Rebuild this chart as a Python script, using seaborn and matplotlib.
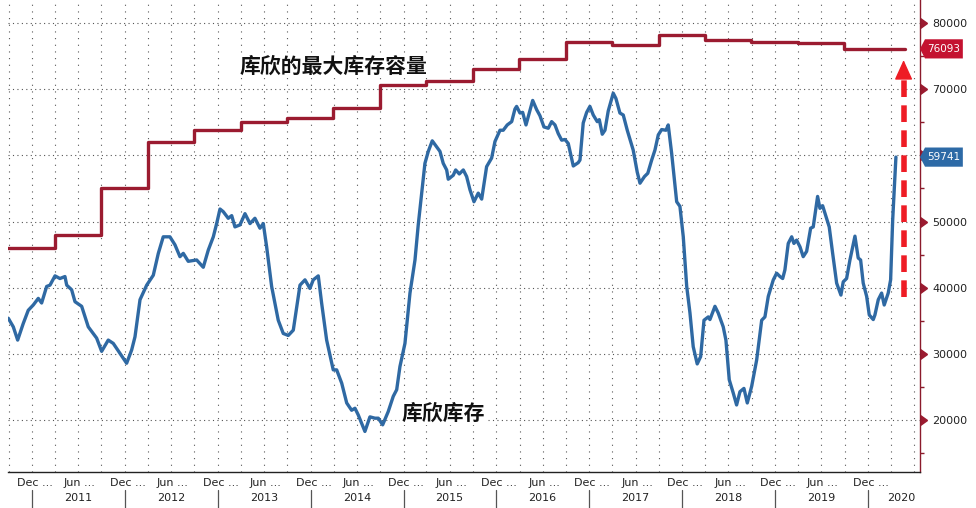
import numpy as np
import pandas as pd
import seaborn as sns
import matplotlib.pyplot as plt
import matplotlib.dates as mdates
import matplotlib.markers as mmarkers
from matplotlib.ticker import MultipleLocator, NullFormatter
from matplotlib.patches import Polygon

# Cushing crude stocks (thousand bbl), weekly, time as decimal year
stock_t = [
    2010.745, 2010.799, 2010.846, 2010.906, 2010.960, 2011.014, 2011.068, 2011.104,
    2011.158, 2011.194, 2011.248, 2011.301, 2011.355, 2011.374, 2011.427, 2011.463,
    2011.535, 2011.606, 2011.696, 2011.750, 2011.821, 2011.875, 2011.947, 2012.019,
    2012.073, 2012.109, 2012.163, 2012.235, 2012.306, 2012.360, 2012.413, 2012.485,
    2012.539, 2012.593, 2012.629, 2012.682, 2012.773, 2012.844, 2012.898, 2012.952,
    2012.988, 2013.024, 2013.059, 2013.113, 2013.150, 2013.185, 2013.239, 2013.293,
    2013.347, 2013.400, 2013.454, 2013.490, 2013.526, 2013.580, 2013.651, 2013.705,
    2013.759, 2013.813, 2013.885, 2013.939, 2013.992, 2014.028, 2014.082, 2014.118,
    2014.172, 2014.243, 2014.280, 2014.334, 2014.388, 2014.441, 2014.477, 2014.512,
    2014.549, 2014.584, 2014.638, 2014.692, 2014.728, 2014.775, 2014.835, 2014.889,
    2014.926, 2014.961, 2015.015, 2015.069, 2015.123, 2015.158, 2015.195, 2015.230,
    2015.266, 2015.309, 2015.356, 2015.392, 2015.427, 2015.464, 2015.481, 2015.535,
    2015.561, 2015.600, 2015.643, 2015.679, 2015.715, 2015.758, 2015.804, 2015.841,
    2015.894, 2015.948, 2015.984, 2016.038, 2016.073, 2016.116, 2016.164, 2016.199,
    2016.217, 2016.253, 2016.282, 2016.318, 2016.353, 2016.390, 2016.433, 2016.468,
    2016.511, 2016.558, 2016.594, 2016.630, 2016.665, 2016.702, 2016.737, 2016.773,
    2016.827, 2016.880, 2016.899, 2016.934, 2016.971, 2017.006, 2017.042, 2017.085,
    2017.107, 2017.139, 2017.168, 2017.203, 2017.257, 2017.286, 2017.329, 2017.365,
    2017.408, 2017.472, 2017.515, 2017.545, 2017.593, 2017.629, 2017.671, 2017.706,
    2017.742, 2017.778, 2017.825, 2017.849, 2017.886, 2017.940, 2017.975, 2018.011,
    2018.048, 2018.083, 2018.118, 2018.161, 2018.198, 2018.234, 2018.280, 2018.298,
    2018.352, 2018.387, 2018.441, 2018.470, 2018.506, 2018.549, 2018.585, 2018.621,
    2018.664, 2018.700, 2018.747, 2018.801, 2018.855, 2018.890, 2018.926, 2018.980,
    2019.016, 2019.052, 2019.081, 2019.105, 2019.141, 2019.178, 2019.202, 2019.231,
    2019.267, 2019.302, 2019.339, 2019.382, 2019.410, 2019.457, 2019.482, 2019.511,
    2019.547, 2019.582, 2019.619, 2019.662, 2019.708, 2019.733, 2019.769, 2019.805,
    2019.859, 2019.894, 2019.920, 2019.948, 2019.985, 2020.013, 2020.056, 2020.074,
    2020.110, 2020.146, 2020.174, 2020.217, 2020.243, 2020.265, 2020.300,
]
stock_v = [
    35400, 34100, 32100, 34600, 36600, 37400, 38400, 37700,
    40200, 40400, 41800, 41400, 41700, 40400, 39700, 37900,
    37200, 34100, 32400, 30400, 32100, 31600, 30100, 28600,
    30600, 32600, 38200, 40400, 41900, 45200, 47700, 47700,
    46500, 44700, 45200, 44000, 44200, 43100, 45700, 47700,
    49700, 51900, 51500, 50500, 50900, 49200, 49500, 51200,
    49700, 50500, 49000, 49700, 46200, 40200, 35100, 33100,
    32800, 33600, 40400, 41200, 39900, 41200, 41800, 37700,
    32100, 27600, 27600, 25600, 22600, 21500, 21800, 20800,
    19500, 18300, 20500, 20300, 20300, 19300, 21300, 23600,
    24600, 28100, 31600, 39200, 44200, 49500, 54300, 58800,
    60600, 62200, 61300, 60600, 58800, 57800, 56400, 57000,
    57800, 57200, 57800, 56800, 54800, 53000, 54300, 53400,
    58300, 59600, 62100, 63800, 63800, 64600, 65100, 67000,
    67400, 66400, 66500, 64600, 66400, 68300, 66900, 66000,
    64300, 64100, 65100, 64600, 63300, 62300, 62400, 61800,
    58400, 58900, 59300, 64900, 66500, 67400, 66100, 65100,
    65400, 63200, 63800, 66700, 69400, 68600, 66400, 66100,
    63800, 60800, 57500, 55800, 56800, 57300, 59300, 60800,
    63100, 63900, 63800, 64600, 60300, 53000, 52300, 47700,
    40200, 36200, 31100, 28500, 29600, 35100, 35600, 35200,
    37200, 36200, 34100, 32100, 26100, 24100, 22300, 24300,
    24800, 22600, 25100, 29100, 35100, 35600, 38700, 41200,
    42200, 41700, 41400, 42700, 46700, 47700, 46700, 47200,
    46200, 44700, 45500, 49000, 49200, 53800, 52000, 52400,
    50800, 49200, 45200, 40700, 38900, 40900, 41400, 44200,
    47800, 44500, 44200, 40700, 38700, 35900, 35200, 35900,
    38200, 39200, 37400, 39200, 41200, 50200, 59741,
]

# Cushing working storage capacity (thousand bbl), semi-annual
cap_dates = [
    "2010-09-27", "2011-03-31", "2011-09-30", "2012-03-31", "2012-09-30",
    "2013-03-31", "2013-09-30", "2014-03-31", "2014-09-30", "2015-03-31",
    "2015-09-30", "2016-03-31", "2016-09-30", "2017-03-31", "2017-09-30",
    "2018-03-31", "2018-09-30", "2019-03-31", "2019-09-30", "2020-05-26",
]
cap_v = [
    46000, 48000, 55000, 62000, 63800,
    65000, 65700, 67200, 70700, 71300,
    73000, 74500, 77100, 76700, 78200,
    77400, 77200, 77000, 76093, 76093,
]

last_stock = 59741
last_cap = 76093
year_labels = [str(y) for y in range(2011, 2021)]

RED = "#9b1b30"
BLUE = "#2f69a3"


def to_date(t):
    t = np.asarray(t, dtype=float)
    return pd.to_datetime("2011-01-01") + pd.to_timedelta((t - 2011) * 365.25, unit="D")


stock = pd.DataFrame({"date": to_date(stock_t), "stock": stock_v})
cap = pd.DataFrame({"date": pd.to_datetime(cap_dates), "cap": cap_v})

sns.set_style("white")
plt.rcParams["font.family"] = ["DejaVu Sans", "Noto Sans CJK SC"]

fig, ax = plt.subplots(figsize=(9.76, 5.08), dpi=100)
fig.subplots_adjust(left=0.0082, right=0.9426, top=1.0, bottom=0.0709)

sns.lineplot(data=cap, x="date", y="cap", ax=ax, color=RED, lw=2.4,
             drawstyle="steps-post", zorder=3)
sns.lineplot(data=stock, x="date", y="stock", ax=ax, color=BLUE, lw=2.4, zorder=3)

ax.set_xlim(to_date(2010.742), to_date(2020.559))
ax.set_ylim(12175, 83474)
ax.set_xlabel("")
ax.set_ylabel("")

# spines
for s in ["left", "top"]:
    ax.spines[s].set_visible(False)
ax.spines["right"].set_color("#8b1a2b")
ax.spines["right"].set_linewidth(1.0)
ax.spines["bottom"].set_color("#222222")
ax.spines["bottom"].set_linewidth(1.0)

# y axis on the right with caret markers; the 60000 label sits under the blue tag
ax.yaxis.tick_right()
yt = list(range(20000, 80001, 10000))
ax.set_yticks(yt)
ax.set_yticklabels(["" if v == 60000 else str(v) for v in yt])
ax.yaxis.set_minor_locator(MultipleLocator(5000))
ax.tick_params(axis="y", which="major", length=0, pad=9, labelsize=8, labelcolor="#222222")
ax.tick_params(axis="y", which="minor", length=3, color="#8b1a2b", width=1)
ax.plot([1.0] * len(yt), yt, marker=mmarkers.CARETRIGHTBASE, ls="none", ms=7,
        color="#9b1b30", transform=ax.get_yaxis_transform(), clip_on=False)

# x axis: quarterly ticks, custom labels
ax.xaxis.set_major_locator(mdates.MonthLocator(bymonth=[1, 4, 7, 10]))
ax.xaxis.set_major_formatter(NullFormatter())
ax.tick_params(axis="x", which="major", direction="inout", length=5, color="#222222", width=1)

ax.grid(axis="y", which="major", ls=(0, (1, 3)), color="#555555", lw=0.8)
ax.grid(axis="x", which="major", ls=(0, (1, 5)), color="#555555", lw=0.8)

for y in year_labels:
    yr = int(y)
    ax.annotate("Dec ...", xy=(pd.Timestamp(f"{yr}-01-12"), 0), xycoords=("data", "axes fraction"),
                xytext=(0, -11), textcoords="offset pixels", ha="center", va="center",
                fontsize=8, color="#222222", annotation_clip=False)
    if yr < 2020:
        ax.annotate("Jun ...", xy=(pd.Timestamp(f"{yr}-07-08"), 0), xycoords=("data", "axes fraction"),
                    xytext=(0, -11), textcoords="offset pixels", ha="center", va="center",
                    fontsize=8, color="#222222", annotation_clip=False)
        mid = pd.Timestamp(f"{yr}-07-01")
    else:
        mid = pd.Timestamp(f"{yr}-05-10")
    ax.annotate(y, xy=(mid, 0), xycoords=("data", "axes fraction"),
                xytext=(0, -26), textcoords="offset pixels", ha="center", va="center",
                fontsize=8, color="#222222", annotation_clip=False)
    ax.plot([pd.Timestamp(f"{yr}-01-01")] * 2, [-0.038, -0.08], color="#555555", lw=0.9,
            transform=ax.get_xaxis_transform(), clip_on=False)


# value tags on the right axis
def tag(value, text, color):
    h = 1450
    pts = [(1.0, value), (1.0055, value + h), (1.047, value + h),
           (1.047, value - h), (1.0055, value - h)]
    ax.add_patch(Polygon(pts, closed=True, transform=ax.get_yaxis_transform(),
                         clip_on=False, fc=color, ec="none", zorder=5))
    ax.text(1.026, value, text, transform=ax.get_yaxis_transform(), color="white",
            ha="center", va="center", fontsize=7.5, clip_on=False, zorder=6)


tag(last_cap, str(last_cap), "#c41230")
tag(last_stock, str(last_stock), "#2d6aa6")

# dashed arrow
arrow_x = pd.Timestamp("2020-05-20")
ax.plot([arrow_x, arrow_x], [38600, 72200], color="#ee1c25", lw=4,
        dashes=(3, 1.5), solid_capstyle="butt", zorder=4)
ax.annotate("", xy=(arrow_x, 74400), xytext=(arrow_x, 72000),
            arrowprops=dict(arrowstyle="-|>,head_length=0.62,head_width=0.28",
                            color="#ee1c25", lw=1, mutation_scale=20, shrinkA=0, shrinkB=0),
            zorder=4)

# chinese annotations
ax.text(to_date(2014.25), 73500, "库欣的最大库存容量", family=["Noto Sans CJK SC", "DejaVu Sans"],
        fontweight="bold", fontsize=15, ha="center", va="center", color="#111111",
        bbox=dict(fc="white", ec="none", pad=1), zorder=4)
ax.text(to_date(2015.424), 21100, "库欣库存", family=["Noto Sans CJK SC", "DejaVu Sans"],
        fontweight="bold", fontsize=15, ha="center", va="center", color="#111111",
        bbox=dict(fc="white", ec="none", pad=1), zorder=4)

plt.savefig("out.png", dpi=100)
